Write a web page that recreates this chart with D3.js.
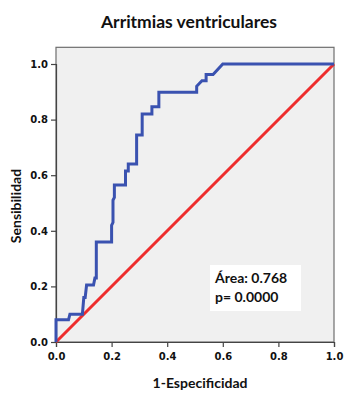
<!DOCTYPE html>
<html>
<head>
<meta charset="utf-8">
<script src="https://cdn.jsdelivr.net/npm/d3@7"></script>
<style>
  body { margin: 0; background: #fff; }
  text { font-family: Lato, "Open Sans", sans-serif; font-weight: bold; fill: #111; }
  .tick text { font-family: "DejaVu Sans", sans-serif; font-size: 10px; }
</style>
</head>
<body>
<div id="chart"></div>
<script>
// ROC curve points (1-specificity, sensitivity)
const fpr = [0, 0, 0.045, 0.05, 0.095, 0.10, 0.105, 0.11, 0.135, 0.14, 0.145, 0.145, 0.20, 0.20, 0.205, 0.205, 0.21, 0.21, 0.25, 0.25, 0.26, 0.26, 0.29, 0.29, 0.31, 0.31, 0.345, 0.345, 0.37, 0.37, 0.506, 0.506, 0.525, 0.54, 0.54, 0.565, 0.60, 1.0];
const tpr = [0, 0.08, 0.08, 0.10, 0.10, 0.16, 0.16, 0.205, 0.205, 0.23, 0.23, 0.36, 0.36, 0.42, 0.43, 0.51, 0.52, 0.565, 0.565, 0.615, 0.615, 0.64, 0.64, 0.745, 0.745, 0.82, 0.82, 0.846, 0.846, 0.898, 0.898, 0.92, 0.94, 0.94, 0.962, 0.962, 1.0, 1.0];
const refLine = [0, 1];
const ticks = [0, 0.2, 0.4, 0.6, 0.8, 1.0];
const chartTitle = "Arritmias ventriculares";
const annot = ["Área: 0.768", "p= 0.0000"];

const width = 354, height = 400;
const svg = d3.select("#chart").append("svg")
  .attr("width", width).attr("height", height);

const x = d3.scaleLinear().domain([0, 1]).range([56, 334]);
const y = d3.scaleLinear().domain([0, 1]).range([342, 64]);

// plot background + frame
svg.append("rect")
  .attr("x", x(0)).attr("y", y(1.06))
  .attr("width", x(1) - x(0)).attr("height", y(0) - y(1.06))
  .attr("fill", "#f0f0f0")
  .attr("stroke", "#6e6e6e").attr("stroke-width", 1.2);

// axes
const xAxis = svg.append("g")
  .attr("transform", `translate(0, ${y(0)})`)
  .call(d3.axisBottom(x).tickValues(ticks).tickFormat(d3.format(".1f")).tickSizeOuter(0).tickSize(5).tickPadding(6));
const yAxis = svg.append("g")
  .attr("transform", `translate(${x(0)}, 0)`)
  .call(d3.axisLeft(y).tickValues(ticks).tickFormat(d3.format(".1f")).tickSizeOuter(0).tickSize(5).tickPadding(3));
[xAxis, yAxis].forEach(a => {
  a.select(".domain").attr("stroke", "#444").attr("stroke-width", 1.2);
  a.selectAll(".tick line").attr("stroke", "#444").attr("stroke-width", 1.2);
});

// reference diagonal
svg.append("line")
  .attr("x1", x(refLine[0])).attr("y1", y(refLine[0]))
  .attr("x2", x(refLine[1])).attr("y2", y(refLine[1]))
  .attr("stroke", "#ee2d2d").attr("stroke-width", 3);

// ROC curve
const pts = fpr.map((f, i) => [f, tpr[i]]);
svg.append("path")
  .datum(pts)
  .attr("fill", "none")
  .attr("stroke", "#3a52b0")
  .attr("stroke-width", 3)
  .attr("stroke-linejoin", "miter")
  .attr("d", d3.line().x(d => x(d[0])).y(d => y(d[1])));

// annotation box
svg.append("rect")
  .attr("x", 210).attr("y", 265).attr("width", 91).attr("height", 46)
  .attr("fill", "#fff");
svg.selectAll(".annot")
  .data(annot)
  .join("text")
    .attr("class", "annot")
    .attr("x", 215)
    .attr("y", (d, i) => 283 + i * 19)
    .style("font-size", "14px")
    .text(d => d);

// titles
svg.append("text")
  .attr("x", 189).attr("y", 28)
  .attr("text-anchor", "middle")
  .style("font-size", "17.5px")
  .text(chartTitle);
svg.append("text")
  .attr("x", 200).attr("y", 388)
  .attr("text-anchor", "middle")
  .style("font-size", "14px")
  .text("1-Especificidad");
svg.append("text")
  .attr("transform", "translate(21, 206) rotate(-90)")
  .attr("text-anchor", "middle")
  .style("font-size", "14px")
  .text("Sensibilidad");
</script>
</body>
</html>
